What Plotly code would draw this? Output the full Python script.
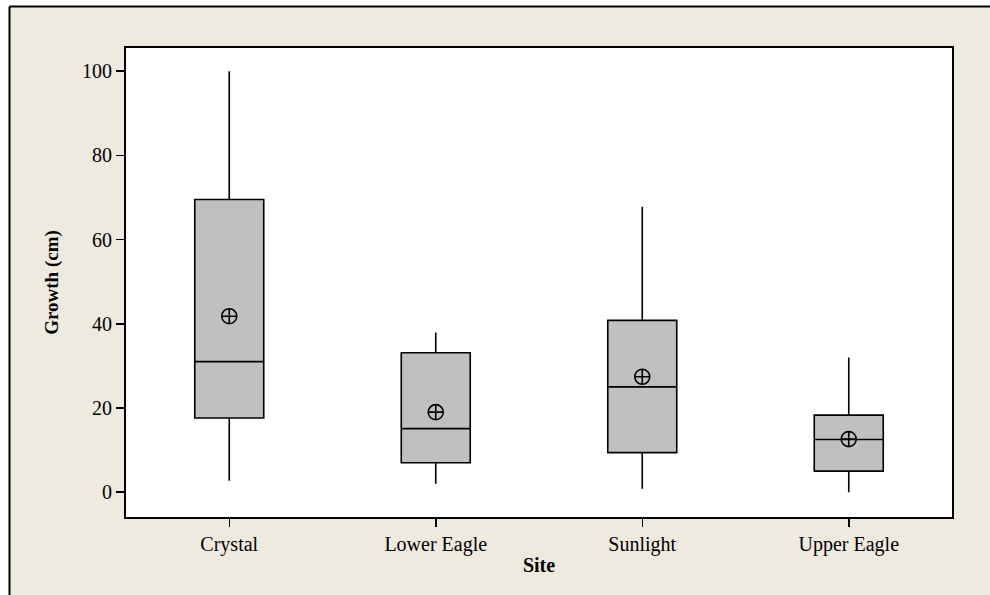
import plotly.graph_objects as go

sites = ["Crystal", "Lower Eagle", "Sunlight", "Upper Eagle"]
lower_whisker = [2.7, 2.0, 0.8, 0.0]
q1_vals = [17.6, 7.0, 9.4, 5.0]
median_vals = [31.0, 15.1, 25.0, 12.5]
q3_vals = [69.5, 33.1, 40.8, 18.3]
upper_whisker = [100.0, 37.9, 67.8, 32.0]
mean_vals = [41.8, 19.0, 27.4, 12.6]
y_ticks = [0, 20, 40, 60, 80, 100]

BEIGE = "#EEEAE0"
FONT = "Liberation Serif, Times New Roman, serif"

fig = go.Figure()
fig.add_trace(go.Box(
    x=sites,
    q1=q1_vals,
    median=median_vals,
    q3=q3_vals,
    lowerfence=lower_whisker,
    upperfence=upper_whisker,
    width=0.334,
    fillcolor="#C0C0C0",
    line=dict(color="black", width=1.6),
    whiskerwidth=0,
    boxpoints=False,
    showlegend=False,
    hoverinfo="skip",
))
fig.add_trace(go.Scatter(
    x=sites,
    y=mean_vals,
    mode="markers",
    marker=dict(symbol="circle-cross-open", size=15, color="black",
                line=dict(color="black", width=1.6)),
    showlegend=False,
    hoverinfo="skip",
))

# plot area geometry in pixels
L, R, T, B = 126, 952, 48, 517
W, H = 990, 595
pw, ph = R - L, B - T

def px_x(p):
    return (p - L) / pw

def px_y(p):
    return (B - p) / ph

shapes = [
    # white strips outside the beige frame
    dict(type="rect", xref="paper", yref="paper", x0=px_x(-5), x1=px_x(W + 5),
         y0=px_y(6.5), y1=px_y(-5), fillcolor="white", line=dict(width=0), layer="below"),
    dict(type="rect", xref="paper", yref="paper", x0=px_x(-5), x1=px_x(9.5),
         y0=px_y(H + 5), y1=px_y(-5), fillcolor="white", line=dict(width=0), layer="below"),
    # frame lines
    dict(type="line", xref="paper", yref="paper", x0=px_x(9.5), x1=px_x(W + 5),
         y0=px_y(6.5), y1=px_y(6.5), line=dict(color="black", width=2)),
    dict(type="line", xref="paper", yref="paper", x0=px_x(9.5), x1=px_x(9.5),
         y0=px_y(6.5), y1=px_y(H + 5), line=dict(color="black", width=2)),
]

fig.update_layout(
    width=W, height=H,
    margin=dict(l=L, r=W - R, t=T, b=H - B, pad=0),
    paper_bgcolor=BEIGE,
    plot_bgcolor="white",
    font=dict(family=FONT, color="black", size=20),
    shapes=shapes,
    showlegend=False,
)
fig.update_xaxes(
    type="category",
    categoryorder="array", categoryarray=sites,
    range=[-0.5, 3.5],
    showline=True, linecolor="black", linewidth=2, mirror=True,
    ticks="outside", ticklen=8, tickwidth=1.5, tickcolor="black",
    tickfont=dict(family=FONT, size=20, color="black"),
    showgrid=False, zeroline=False,
    title=dict(text="<b>Site</b>", font=dict(family=FONT, size=20, color="black"), standoff=3),
)
fig.update_yaxes(
    range=[-5.9, 105.5],
    tickvals=y_ticks,
    showline=True, linecolor="black", linewidth=2, mirror=True,
    ticks="outside", ticklen=8, tickwidth=1.5, tickcolor="black",
    tickfont=dict(family=FONT, size=20, color="black"),
    showgrid=False, zeroline=False,
    title=dict(text="<b>Growth (cm)</b>", font=dict(family=FONT, size=19, color="black"), standoff=18),
)

fig.write_html(
    "out.html",
    config={"displayModeBar": False, "staticPlot": True},
    post_script="document.body.style.margin='0';document.body.style.overflow='hidden';",
)
